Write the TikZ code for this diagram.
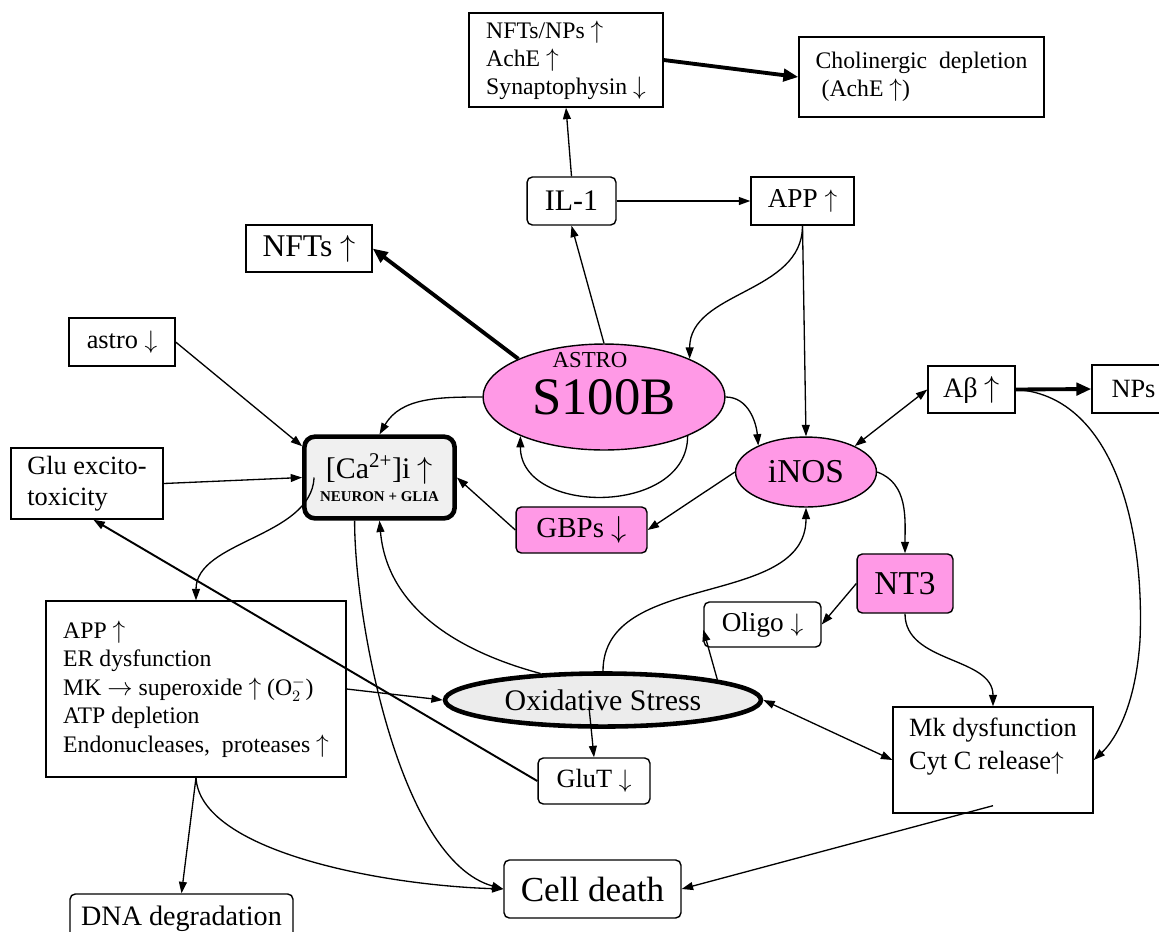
\documentclass[tikz,border=0pt]{standalone}
\usepackage{fontspec}
\setmainfont{Liberation Serif}
\usepackage{xcolor}
\usetikzlibrary{shapes.geometric,arrows.meta}
\definecolor{glialpink}{RGB}{255,153,230}
\newcommand{\incr}{$\uparrow$}
\newcommand{\decr}{$\downarrow$}

\begin{document}
\begin{tikzpicture}[x=0.02cm, y=-0.02cm,
    >={Triangle[length=6.5pt,width=4.5pt]},
    sz/.style 2 args={font=\fontsize{#1}{#2}\selectfont},
    box/.style={draw, line width=0.8pt, inner sep=2pt, align=left},
    rbox/.style={box, rounded corners=3pt, align=center},
    pinkbox/.style={rbox, fill=glialpink},
    pinkoval/.style={ellipse, draw, line width=0.8pt, fill=glialpink, inner sep=0pt},
    link/.style={->, line width=0.75pt},
    heavy/.style={-{Triangle[length=8.5pt,width=7pt]}, line width=2.2pt}]
    \useasboundingbox (0,0) rectangle (1159,931);

    % boxes and ovals
    \node[box, sz={13.5}{16}, minimum width=110.4pt, minimum height=53.5pt] (plaques) at (566,60) {NFTs/NPs \incr\\AchE \incr\\Synaptophysin \decr};
    \node[box, sz={13.5}{16}, minimum width=139.4pt, minimum height=45.5pt] (chol) at (921.5,77) {Cholinergic\ \ depletion\\\ (AchE \incr)};
    \node[rbox, sz={17}{20}, minimum width=50.6pt, minimum height=27.3pt] (il1) at (571.5,201) {IL-1};
    \node[box, sz={15.5}{18}, minimum width=58.6pt, minimum height=27.3pt] (appt) at (802.5,201) {APP \incr};
    \node[box, sz={18}{21}, minimum width=71.7pt, minimum height=26.7pt] (nfts) at (309,248.5) {NFTs \incr};
    \node[box, sz={15}{18}, minimum width=60.3pt, minimum height=27.3pt] (astro) at (122,342) {astro \decr};
    \node[pinkoval, sz={30}{30}, minimum width=137.7pt, minimum height=60.3pt] (s100b) at (604,397) {S100B};
    \node[sz={13}{13}, inner sep=0pt] (astrotag) at (590,360) {ASTRO};
    \node[box, sz={16}{19}, minimum width=49.5pt, minimum height=26.7pt] (abeta) at (971.5,389.5) {Aβ \incr};
    \node[box, sz={15}{18}, minimum width=47.2pt, minimum height=27.3pt] (nps) at (1133.5,389) {NPs};
    \node[pinkoval, sz={19}{19}, minimum width=80.2pt, minimum height=39.8pt] (inos) at (806,472) {iNOS};
    \node[rbox, line width=2.6pt, rounded corners=6pt, fill=gray!12, minimum width=85.5pt, minimum height=46.5pt] (ca) at (379.5,477.5)
        {\fontsize{17}{17}\selectfont[Ca\textsuperscript{2+}]i \incr\\[1pt]\fontsize{8.5}{10}\selectfont\bfseries NEURON + GLIA};
    \node[box, sz={15}{18}, minimum width=86.5pt, minimum height=40.4pt] (glu) at (87,483.5) {Glu excito-\\toxicity};
    \node[pinkbox, sz={16.5}{19}, minimum width=74.5pt, minimum height=26.2pt] (gbps) at (581.5,530) {GBPs \decr};
    \node[pinkbox, sz={19}{19}, minimum width=54.6pt, minimum height=33.6pt] (nt3) at (905,583.5) {NT3};
    \node[rbox, sz={15.5}{18}, minimum width=66.6pt, minimum height=25.6pt] (oligo) at (762.5,624.5) {Oligo \decr};
    \node[box, sz={13.5}{16.2}, minimum width=170.7pt, minimum height=100.1pt] (cascade) at (196,689)
        {APP \incr\\ER dysfunction\\MK $\rightarrow$ superoxide \incr\ (O$_{2}^{-}$)\\ATP depletion\\Endonucleases,\ \ proteases \incr};
    \node[ellipse, draw, line width=2.6pt, fill=gray!15, inner sep=0pt, sz={17}{17}, minimum width=179.8pt, minimum height=30.2pt] (ox) at (603,700) {Oxidative Stress};
    \node[rbox, sz={15}{18}, minimum width=63.7pt, minimum height=26.2pt] (glut) at (594,781) {GluT \decr};
    \node[box, sz={15}{18.7}, minimum width=113.8pt, minimum height=60.3pt] (mk) at (993,760) {Mk dysfunction\\Cyt C release\incr\\\mbox{}};
    \node[rbox, sz={20}{24}, minimum width=100.7pt, minimum height=33pt] (death) at (592.5,889) {Cell death};
    \node[rbox, sz={16}{19}, minimum width=126.9pt, minimum height=28.5pt] (dna) at (181.5,919) {DNA degradation};

    % connectors, top part
    \draw[heavy] (plaques.east) -- (chol.west);
    \draw[link] (il1.north) -- (plaques.south);
    \draw[link] (il1.east) -- (appt.west);
    \draw[link] (s100b.north) -- (il1.south);
    \draw[heavy] (s100b.156) -- (nfts.east);
    \draw[link] (appt.south) to[out=-90,in=90] (s100b.24);
    \draw[link] (appt.south) -- (inos.north);
    \draw[link] (s100b.east) to[out=0,in=95] (inos.151);
    \draw[link] (s100b.west) to[out=180,in=60] (ca.north);
    \draw[link] (s100b.-25) .. controls +(0,80) and +(0,80) .. (s100b.205);
    \draw[link] (inos.west) -- (gbps.east);
    \draw[link] (gbps.west) -- (ca.east);
    \draw[link] (astro.east) -- (ca.158);
    \draw[link] (glu.east) -- (ca.west);
    \draw[link, <->] (inos.28) -- (abeta.west);
    \draw[heavy] (abeta.east) -- (nps.west);
    \draw[link] (abeta.east) .. controls (1110,395) and (1145,520) .. (1140,640) .. controls (1135,715) and (1110,745) .. (mk.east);
    \draw[link] (inos.east) to[out=-20,in=90] (nt3.north);
    \draw[link] (nt3.west) -- (oligo.east);
    \draw[link] (nt3.south) to[out=-90,in=90] (mk.north);

    % connectors, lower part
    \draw[link] ([xshift=0.24cm]ca.west) .. controls +(-3,60) and +(0,-60) .. (cascade.north);
    \draw[link] (ca.-120) .. controls +(0,100) and +(-104,-29) .. (death.west);
    \draw[link] (ox.157) to[out=165,in=-85] (ca.south);
    \draw[link] (cascade.east) -- (ox.west);
    \draw[link] ([xshift=-0.28cm,yshift=-0.14cm]ox.center) -- (glut.north);
    \draw[link, line width=1.1pt] (glut.west) -- (glu.-80);
    \draw[link] (ox.north) to[out=90,in=-90] (inos.south);
    \draw[link] (ox.10) -- (oligo.185);
    \draw[link, <->] (ox.east) -- (mk.west);
    \draw[link] ([yshift=0.16cm]mk.south) -- (death.east);
    \draw[link] (cascade.south) -- (dna.north);
    \draw[link] (cascade.south) .. controls +(4,73) and +(-124,-4) .. (death.west);
\end{tikzpicture}
\end{document}
